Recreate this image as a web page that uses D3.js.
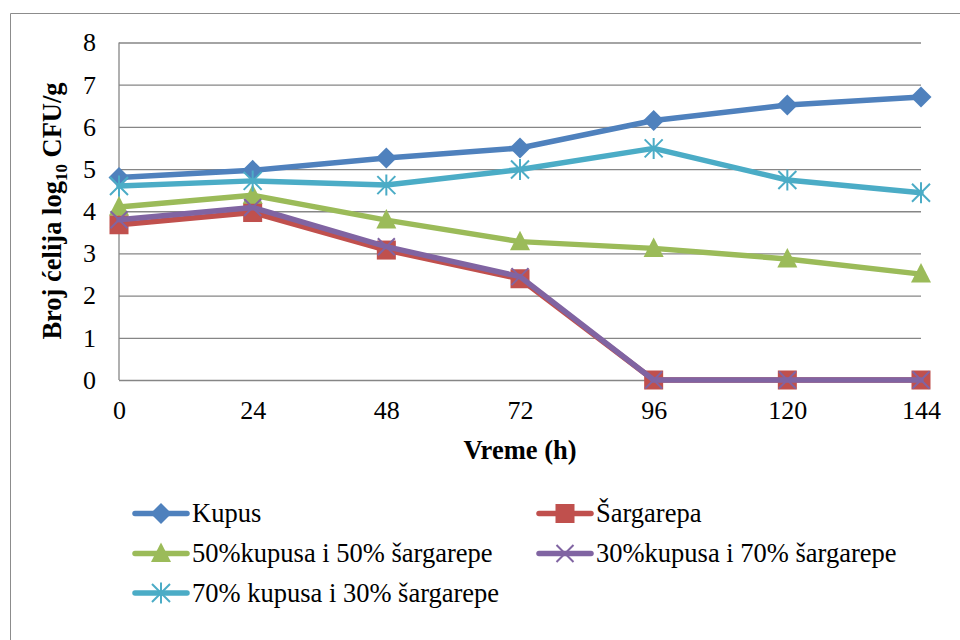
<!DOCTYPE html>
<html>
<head>
<meta charset="utf-8">
<script src="https://cdn.jsdelivr.net/npm/d3@7"></script>
<style>
  html, body { margin: 0; padding: 0; background: #fff; }
  svg { display: block; }
</style>
</head>
<body>
<svg id="chart" width="960" height="640"></svg>
<script>
// Sampling times (hours)
const hours = ["0", "24", "48", "72", "96", "120", "144"];
const yTicks = [0, 1, 2, 3, 4, 5, 6, 7, 8];

// log10 CFU/g per sample
const kupus      = [4.80, 4.97, 5.26, 5.50, 6.15, 6.52, 6.71];
const sargarepa  = [3.68, 3.97, 3.08, 2.40, 0, 0, 0];
const mix5050    = [4.10, 4.38, 3.79, 3.28, 3.12, 2.87, 2.51];
const mix3070    = [3.80, 4.09, 3.16, 2.45, 0, 0, 0];
const mix7030    = [4.60, 4.72, 4.62, 4.99, 5.49, 4.74, 4.44];

const seriesNames = [
  "Kupus",
  "Šargarepa",
  "50%kupusa i 50% šargarepe",
  "30%kupusa i 70% šargarepe",
  "70% kupusa i 30% šargarepe"
];
const seriesValues = [kupus, sargarepa, mix5050, mix3070, mix7030];
const seriesColors = ["#4F81BD", "#C0504D", "#9BBB59", "#8064A2", "#4BACC6"];
const seriesMarkers = ["diamond", "square", "triangle", "x", "star"];

const FONT = "'Liberation Serif', Tinos, 'Times New Roman', Times, serif";
const FS = 26;

const svg = d3.select("#chart").style("font-family", FONT);

// Chart area frame (top and left edges visible)
svg.append("path")
  .attr("d", "M10.5,640 L10.5,13.5 L960,13.5")
  .attr("fill", "none").attr("stroke", "#8c8c8c").attr("stroke-width", 1);

const plot = { left: 119, right: 921, top: 42.5, bottom: 380 };

const x = d3.scalePoint().domain(hours).range([plot.left, plot.right]).padding(0);
const y = d3.scaleLinear().domain([0, 8]).range([plot.bottom, plot.top]);

// Horizontal gridlines with value labels
const yAxis = d3.axisLeft(y).tickValues(yTicks).tickSize(-(plot.right - plot.left)).tickPadding(23).tickFormat(d3.format("d"));
const gy = svg.append("g").attr("transform", `translate(${plot.left},0)`).call(yAxis);
gy.select(".domain").remove();
gy.selectAll(".tick line").attr("stroke", "#868686").attr("stroke-width", 1.3);
gy.selectAll(".tick text").attr("font-size", FS).style("font-family", FONT).attr("fill", "#000");

// Vertical value axis line
svg.append("line")
  .attr("x1", plot.left).attr("x2", plot.left)
  .attr("y1", y(8)).attr("y2", y(0))
  .attr("stroke", "#868686").attr("stroke-width", 1.3);

// Category axis labels
const xAxis = d3.axisBottom(x).tickSize(0).tickPadding(21);
const gx = svg.append("g").attr("transform", `translate(0,${plot.bottom})`).call(xAxis);
gx.select(".domain").remove();
gx.selectAll(".tick text").attr("font-size", FS).style("font-family", FONT).attr("fill", "#000");

// Axis titles
svg.append("text")
  .attr("x", 520).attr("y", 459)
  .attr("text-anchor", "middle").attr("font-size", 26.5).attr("font-weight", "bold")
  .style("font-family", FONT)
  .text("Vreme (h)");

const yt = svg.append("text")
  .attr("transform", `translate(61,211) rotate(-90)`)
  .attr("text-anchor", "middle").attr("font-size", 26.5).attr("font-weight", "bold")
  .style("font-family", FONT);
yt.append("tspan").text("Broj ćelija log");
yt.append("tspan").attr("font-size", 17).attr("dy", 6).text("10");
yt.append("tspan").attr("dy", -6).text(" CFU/g");

// Marker drawing
function drawMarker(g, type, color) {
  if (type === "diamond") {
    g.append("path").attr("d", "M0,-10.5 L10.5,0 L0,10.5 L-10.5,0 Z").attr("fill", color);
  } else if (type === "square") {
    g.append("rect").attr("x", -9.5).attr("y", -9.5).attr("width", 19).attr("height", 19).attr("fill", color);
  } else if (type === "triangle") {
    g.append("path").attr("d", "M0,-11 L10,8.5 L-10,8.5 Z").attr("fill", color);
  } else if (type === "x") {
    g.append("path").attr("d", "M-8.5,-8.5 L8.5,8.5 M-8.5,8.5 L8.5,-8.5").attr("stroke", color).attr("stroke-width", 2);
  } else if (type === "star") {
    g.append("path").attr("d", "M-9,-9 L9,9 M-9,9 L9,-9 M0,-10.5 L0,10.5").attr("stroke", color).attr("stroke-width", 2);
  }
}

const line = d3.line().x((d, i) => x(hours[i])).y(d => y(d));

seriesValues.forEach((vals, s) => {
  const g = svg.append("g");
  g.append("path").datum(vals)
    .attr("d", line)
    .attr("fill", "none").attr("stroke", seriesColors[s])
    .attr("stroke-width", 5.5).attr("stroke-linejoin", "round").attr("stroke-linecap", "round");
  vals.forEach((v, i) => {
    const m = g.append("g").attr("transform", `translate(${x(hours[i])},${y(v)})`);
    drawMarker(m, seriesMarkers[s], seriesColors[s]);
  });
});

// Legend
const legendPos = [
  { x: 133, y: 513.5 }, { x: 537, y: 513.5 },
  { x: 133, y: 553.5 }, { x: 537, y: 553.5 },
  { x: 133, y: 593 }
];
seriesNames.forEach((name, s) => {
  const p = legendPos[s];
  const g = svg.append("g").attr("transform", `translate(${p.x},${p.y})`);
  g.append("line").attr("x1", 2).attr("x2", 54).attr("y1", 0).attr("y2", 0)
    .attr("stroke", seriesColors[s]).attr("stroke-width", 5.5).attr("stroke-linecap", "round");
  const m = g.append("g").attr("transform", "translate(28,0)");
  drawMarker(m, seriesMarkers[s], seriesColors[s]);
  g.append("text").attr("x", 59).attr("y", 8.5).attr("font-size", 26.5)
    .style("font-family", FONT).text(name);
});
</script>
</body>
</html>
